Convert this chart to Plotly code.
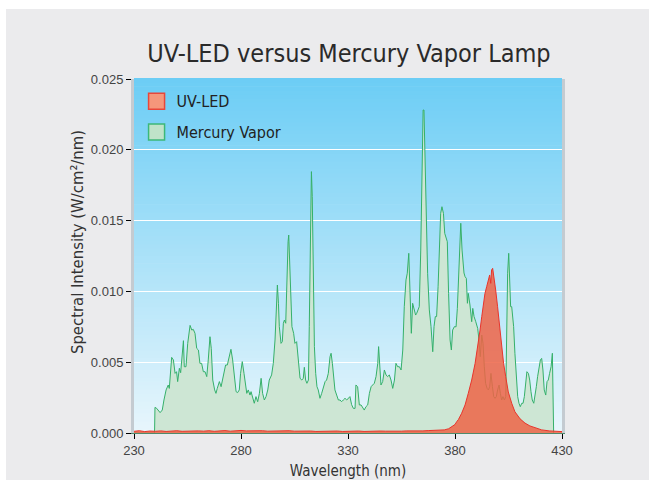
import plotly.graph_objects as go

# ---------------- data ----------------
lam_hg = [230, 239.6, 239.8, 240.6, 242.2, 243.2, 244.0, 245.0, 246.0, 246.5, 247.6, 248.4, 249.2, 249.9,
          250.4, 251.2, 251.8, 253.1, 253.5, 254.3, 255.1, 256.2, 257.0, 257.7, 258.5, 259.3, 260.1, 260.8,
          261.6, 262.4, 263.2, 264.0, 264.7, 265.5, 266.1, 266.8, 267.7, 268.3, 268.9, 269.9, 270.7, 271.7,
          272.8, 273.6, 274.6, 275.3, 276.1, 276.9, 277.7, 278.4, 279.2, 279.8, 280.6, 281.4, 281.9, 282.7,
          283.4, 284.2, 284.7, 285.3, 286.2, 287.0, 287.8, 288.6, 289.4, 290.1, 290.9, 291.7, 292.5, 293.2,
          294.3, 295.1, 295.9, 296.7, 297.0, 297.5, 297.9, 298.7, 299.3, 299.8, 300.3, 300.9, 301.3, 302.0,
          302.3, 302.7, 303.2, 303.8, 304.6, 305.2, 306.0, 306.8, 307.6, 308.4, 309.1, 309.6, 310.2, 310.8,
          311.5, 311.9, 312.4, 312.9, 313.3, 313.8, 314.3, 314.9, 315.5, 316.1, 316.9, 317.7, 318.5, 319.3,
          320.0, 320.8, 321.6, 322.1, 322.7, 323.3, 323.9, 324.7, 325.5, 326.3, 327.0, 327.8, 328.6, 329.4,
          330.2, 330.9, 331.7, 332.5, 333.3, 333.7, 334.5, 335.3, 336.1, 336.9, 337.6, 338.4, 339.2, 340.0,
          340.8, 341.5, 342.3, 343.1, 343.9, 344.3, 344.8, 345.4, 346.2, 347.0, 347.8, 348.5, 349.3, 350.1,
          350.9, 351.7, 352.4, 353.2, 354.0, 354.8, 355.6, 356.3, 357.1, 357.7, 358.4, 359.0, 359.6, 360.2,
          360.8, 361.6, 362.1, 362.9, 363.3, 364.0, 364.6, 365.1, 365.5, 366.0, 366.5, 367.2, 368.0, 368.8,
          369.6, 370.2, 370.8, 371.4, 372.1, 372.7, 373.3, 373.9, 374.6, 375.2, 375.8, 376.4, 377.0, 377.7,
          378.3, 378.9, 379.7, 380.5, 381.1, 381.6, 382.0, 382.7, 383.3, 384.2, 384.7, 385.3, 385.8, 386.2,
          387.0, 387.8, 388.3, 388.9, 389.7, 390.6, 391.2, 391.8, 392.5, 393.1, 393.7, 394.3, 395.0, 395.6,
          396.2, 396.8, 397.5, 398.1, 398.7, 399.3, 399.9, 400.6, 401.2, 401.8, 402.4, 403.1, 403.7, 404.1,
          404.6, 405.1, 405.6, 406.0, 406.5, 407.0, 407.4, 408.0, 408.7, 409.3, 409.9, 410.5, 411.2, 411.8,
          412.4, 413.0, 413.6, 414.3, 414.9, 415.5, 416.1, 416.8, 417.4, 418.0, 418.6, 419.3, 419.9, 420.5,
          421.1, 421.7, 422.4, 423.0, 423.6, 424.2, 424.9, 425.5, 425.8, 426.1]
hg = [0, 0, 0.00181, 0.00174, 0.00144, 0.00162, 0.00233, 0.00304, 0.00339, 0.00315, 0.00534, 0.00516, 0.00421, 0.00433,
      0.00363, 0.00457, 0.00426, 0.00652, 0.00468, 0.00468, 0.00633, 0.00760, 0.00727, 0.00732, 0.00704, 0.00598, 0.00586, 0.00492,
      0.00492, 0.00433, 0.00433, 0.00398, 0.00516, 0.00680, 0.00598, 0.00374, 0.00304, 0.00280, 0.00315, 0.00363, 0.00327, 0.00410,
      0.00480, 0.00480, 0.00539, 0.00591, 0.00516, 0.00374, 0.00292, 0.00285, 0.00304, 0.00421, 0.00504, 0.00421, 0.00351, 0.00280,
      0.00304, 0.00268, 0.00292, 0.00257, 0.00210, 0.00257, 0.00221, 0.00280, 0.00386, 0.00280, 0.00233, 0.00257, 0.00304, 0.00374,
      0.00410, 0.00492, 0.00657, 0.00939, 0.01045, 0.00916, 0.00751, 0.00633, 0.00645, 0.00775, 0.00798, 0.00775, 0.01033, 0.01351,
      0.01398, 0.01222, 0.00939, 0.00751, 0.00704, 0.00633, 0.00645, 0.00516, 0.00386, 0.00374, 0.00386, 0.00464, 0.00374, 0.00351,
      0.00374, 0.00751, 0.01340, 0.01846, 0.01669, 0.00986, 0.00610, 0.00421, 0.00327, 0.00304, 0.00245, 0.00280, 0.00327, 0.00363,
      0.00374, 0.00421, 0.00539, 0.00563, 0.00492, 0.00374, 0.00304, 0.00268, 0.00233, 0.00233, 0.00221, 0.00233, 0.00245, 0.00233,
      0.00245, 0.00257, 0.00200, 0.00174, 0.00174, 0.00339, 0.00327, 0.00198, 0.00198, 0.00174, 0.00162, 0.00186, 0.00198, 0.00280,
      0.00327, 0.00339, 0.00351, 0.00398, 0.00492, 0.00610, 0.00492, 0.00339, 0.00363, 0.00445, 0.00410, 0.00398, 0.00410, 0.00374,
      0.00315, 0.00374, 0.00492, 0.00468, 0.00468, 0.00445, 0.00586, 0.00892, 0.01081, 0.01128, 0.01269, 0.01033, 0.00704, 0.00916,
      0.00880, 0.00833, 0.00845, 0.00880, 0.00892, 0.01292, 0.01763, 0.02281, 0.02281, 0.01881, 0.01457, 0.01128, 0.00869, 0.00751,
      0.00574, 0.00751, 0.00822, 0.00822, 0.01033, 0.01316, 0.01551, 0.01598, 0.01551, 0.01410, 0.01387, 0.01351, 0.00986, 0.00657,
      0.00586, 0.00727, 0.00751, 0.00750, 0.00880, 0.01081, 0.01151, 0.01481, 0.01292, 0.01130, 0.01104, 0.01092, 0.00916, 0.00986,
      0.00904, 0.00786, 0.00880, 0.00822, 0.00786, 0.00739, 0.00657, 0.00539, 0.00692, 0.00633, 0.00468, 0.00351, 0.00315, 0.00304,
      0.00327, 0.00421, 0.00327, 0.00257, 0.00245, 0.00257, 0.00304, 0.00339, 0.00280, 0.00233, 0.00257, 0.00233, 0.00257, 0.00657,
      0.01128, 0.01269, 0.01057, 0.00892, 0.00892, 0.00822, 0.00751, 0.00563, 0.00374, 0.00257, 0.00210, 0.00186, 0.00210, 0.00210,
      0.00257, 0.00327, 0.00433, 0.00421, 0.00374, 0.00292, 0.00233, 0.00210, 0.00257, 0.00327, 0.00398, 0.00468, 0.00516, 0.00527,
      0.00445, 0.00304, 0.00268, 0.00363, 0.00374, 0.00421, 0.00468, 0.00563, 0.00304, 0]

lam_led = [230, 232.5, 235, 237.5, 240, 242.5, 245, 247.5, 250, 252.5, 255, 257.5, 260, 262.5, 265, 267.5,
           270, 272.5, 275, 277.5, 280, 282.5, 285, 287.5, 290, 292.5, 295, 297.5, 300, 302.5, 305, 307.5,
           310, 312.5, 315, 317.5, 320, 322.5, 325, 327.5, 330, 332.5, 335, 337.5, 340, 342.5, 345, 347.5,
           350, 352.5, 355, 357.5, 360, 362.5, 365, 367.5, 370, 372.5, 375, 377.0, 378.4, 380.0, 380.8,
           381.6, 383.1, 384.7, 386.2, 387.8, 389.4, 390.9, 391.7, 392.5, 393.2, 394.0, 394.8, 395.6, 396.2,
           396.7, 397.1, 397.6, 398.2, 399.0, 399.9, 400.9, 401.8, 402.7, 403.7, 404.9, 406.5, 408.0, 410.4,
           412.7, 415.0, 417.5, 420.5, 424.0, 427.0, 430.0]
led = [0.00012, 0.00016, 0.00010, 0.00014, 0.00012, 0.00015, 0.00011, 0.00013, 0.00016, 0.00012, 0.00014, 0.00011,
       0.00015, 0.00013, 0.00016, 0.00012, 0.00014, 0.00017, 0.00013, 0.00016, 0.00018, 0.00015, 0.00017, 0.00014,
       0.00016, 0.00013, 0.00015, 0.00017, 0.00014, 0.00016, 0.00013, 0.00015, 0.00012, 0.00014, 0.00011, 0.00013,
       0.00015, 0.00012, 0.00014, 0.00011, 0.00013, 0.00012, 0.00014, 0.00011, 0.00013, 0.00012, 0.00014, 0.00013,
       0.00012, 0.00014, 0.00013, 0.00015, 0.00014, 0.00016, 0.00015, 0.00017, 0.00018, 0.00020, 0.00022, 0.00030,
       0.00045, 0.00060, 0.00080, 0.00095, 0.00139, 0.00198, 0.00280, 0.00374, 0.00492, 0.00633, 0.00727, 0.00822,
       0.00916, 0.00986, 0.01033, 0.01080, 0.01116, 0.01057, 0.01151, 0.01163, 0.01104, 0.01010, 0.00892, 0.00751,
       0.00610, 0.00492, 0.00398, 0.00290, 0.00210, 0.00150, 0.00100, 0.00070, 0.00050, 0.00035, 0.00022, 0.00015,
       0.00012, 0.00010]

x_ticks = [230, 280, 330, 380, 430]
y_ticks = [0.000, 0.005, 0.010, 0.015, 0.020, 0.025]

# ---------------- styling ----------------
NARROW = "Liberation Sans Narrow, Arial Narrow, DejaVu Sans Condensed, Liberation Sans, sans-serif"
TICKF = "Liberation Sans, Arial, sans-serif"

fig = go.Figure()
fig.add_trace(go.Scatter(x=lam_hg, y=hg, mode="lines", fill="tozeroy",
                         fillcolor="#cde6d4", line=dict(color="#35b06a", width=1),
                         showlegend=False, hoverinfo="skip"))
fig.add_trace(go.Scatter(x=lam_led, y=led, mode="lines", fill="tozeroy",
                         fillcolor="rgba(237,100,70,0.85)", line=dict(color="#e8352c", width=1),
                         showlegend=False, hoverinfo="skip"))
# legend swatches
fig.add_trace(go.Scatter(x=[None], y=[None], mode="markers", name="UV-LED", legendgroup="led",
                         marker=dict(symbol="square", size=16, color="#f5977b",
                                     line=dict(color="#e8473a", width=1.5))))
fig.add_trace(go.Scatter(x=[None], y=[None], mode="markers", name="Mercury Vapor", legendgroup="hg",
                         marker=dict(symbol="square", size=16, color="#bfe3c9",
                                     line=dict(color="#3cb878", width=1.5))))

# gradient background stripes
shapes = []
top = (108, 205, 245)
bot = (232, 246, 252)
N = 90
for i in range(N):
    t = (i + 0.5) / N
    c = tuple(round(bot[k] + (top[k] - bot[k]) * t) for k in range(3))
    shapes.append(dict(type="rect", xref="paper", yref="paper", x0=0, x1=1,
                       y0=i / N, y1=(i + 1) / N + 0.002, layer="below",
                       line=dict(width=0), fillcolor="rgb(%d,%d,%d)" % c))
# cover top grid line
shapes.append(dict(type="line", xref="paper", yref="paper", x0=0, x1=1, y0=1, y1=1,
                   layer="between", line=dict(color="rgb(108,205,245)", width=2)))
# white strips of outer frame
shapes.append(dict(type="rect", xref="paper", yref="paper", x0=-1, x1=2, y0=(433 - 9) / 354, y1=2,
                   line=dict(width=0), fillcolor="white", layer="below"))
shapes.append(dict(type="rect", xref="paper", yref="paper", x0=-1, x1=(6 - 134) / 428, y0=-1, y1=2,
                   line=dict(width=0), fillcolor="white", layer="below"))

fig.update_layout(
    width=649, height=480,
    margin=dict(l=134, r=87, t=79, b=47, autoexpand=False),
    paper_bgcolor="#ebebed", plot_bgcolor="rgb(232,246,252)",
    shapes=shapes,
    title=dict(text="UV-LED versus Mercury Vapor Lamp", x=(349) / 649, xanchor="center",
               y=1 - 53 / 480, yanchor="middle",
               font=dict(family=NARROW, size=25, color="#2a2a2a")),
    legend=dict(x=0.006, y=0.985, xanchor="left", yanchor="top", bgcolor="rgba(0,0,0,0)",
                font=dict(family=NARROW, size=16, color="#222"), traceorder="grouped",
                tracegroupgap=7, itemsizing="trace"),
    annotations=[dict(text="Spectral Intensity (W/cm²/nm)", xref="paper", yref="paper",
                      x=(77 - 134) / 428, y=(433 - 242) / 354, textangle=-90, showarrow=False,
                      xanchor="center", yanchor="middle",
                      font=dict(family=NARROW, size=16.5, color="#333"))],
    xaxis=dict(range=[230, 430], tickvals=x_ticks, ticks="outside", ticklen=5, tickcolor="#000",
               showgrid=False, zeroline=False, showline=True, linecolor="#4f8a6c", linewidth=1,
               automargin=False,
               tickfont=dict(family=TICKF, size=13, color="#444"),
               title=dict(text="Wavelength (nm)", standoff=8,
                          font=dict(family=NARROW, size=15, color="#333"))),
    yaxis=dict(range=[0, 0.025], tickvals=y_ticks, tickformat=".3f", ticks="outside", ticklen=5,
               tickcolor="#000", showgrid=True, gridcolor="white", gridwidth=1, zeroline=False,
               showline=True, linecolor="#c4cbd1", linewidth=3, mirror=True, automargin=False,
               tickfont=dict(family=TICKF, size=13, color="#444")),
)

fig.write_html("out.html", config={"displayModeBar": False},
               post_script="document.body.style.margin='0px';document.body.style.padding='0px';")
